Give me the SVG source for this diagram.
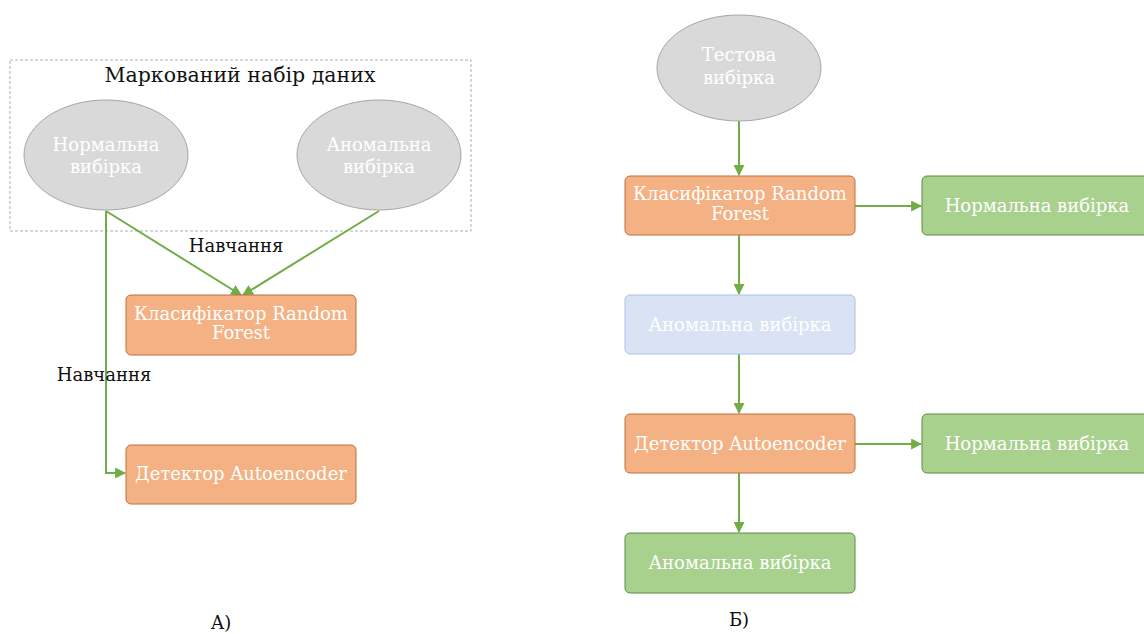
<svg xmlns="http://www.w3.org/2000/svg" width="1144" height="634" viewBox="0 0 1144 634">
<style>
.ell{fill:#d9d9d9;stroke:#a6a6a6;stroke-width:1}
.or{fill:#f4b183;stroke:#c0703a;stroke-width:1}
.gr{fill:#a9d18e;stroke:#5f8a43;stroke-width:1}
.bl{fill:#dae3f3;stroke:#a9c0ea;stroke-width:1}
.wt{font-family:"DejaVu Serif","Liberation Serif",serif;font-size:18px;fill:#ffffff;text-anchor:middle}
.bk{font-family:"DejaVu Serif","Liberation Serif",serif;font-size:18px;fill:#111111;text-anchor:middle}
.cn{fill:none;stroke:#70ad47;stroke-width:2}
</style>
<defs>
<marker id="ah" viewBox="0 0 10 10" refX="9" refY="5" markerWidth="11" markerHeight="11" markerUnits="userSpaceOnUse" orient="auto">
<path d="M0,0 L10,5 L0,10 z" fill="#70ad47"/>
</marker>
</defs>
<rect fill="#ffffff" x="0" y="0" width="1144" height="634"/>

<g id="container">
<rect x="10" y="60" width="461" height="171" fill="none" stroke="#b0b0b0" stroke-width="1" stroke-dasharray="3,2"/>
<text class="bk" x="240" y="82" style="font-size:20.5px">Маркований набір даних</text>
</g>

<g id="connectors">
<line class="cn" x1="106" y1="211" x2="241" y2="295" marker-end="url(#ah)"/>
<line class="cn" x1="379" y1="211" x2="243" y2="295" marker-end="url(#ah)"/>
<polyline class="cn" points="106,211 106,473 125,473" marker-end="url(#ah)"/>
<line class="cn" x1="739" y1="121" x2="739" y2="175" marker-end="url(#ah)"/>
<line class="cn" x1="855" y1="206" x2="921" y2="206" marker-end="url(#ah)"/>
<line class="cn" x1="739" y1="235" x2="739" y2="294" marker-end="url(#ah)"/>
<line class="cn" x1="739" y1="354" x2="739" y2="413" marker-end="url(#ah)"/>
<line class="cn" x1="855" y1="444" x2="921" y2="444" marker-end="url(#ah)"/>
<line class="cn" x1="739" y1="473" x2="739" y2="532" marker-end="url(#ah)"/>
<text class="bk" x="236" y="252">Навчання</text>
<text class="bk" x="104" y="381">Навчання</text>
</g>

<g id="normal_a">
<ellipse class="ell" cx="106" cy="155" rx="82" ry="55"/>
<text class="wt" x="106" y="151">Нормальна</text>
<text class="wt" x="106" y="173">вибірка</text>
</g>
<g id="anomal_a">
<ellipse class="ell" cx="379" cy="155" rx="82" ry="55"/>
<text class="wt" x="379" y="151">Аномальна</text>
<text class="wt" x="379" y="173">вибірка</text>
</g>
<g id="rf_a">
<rect class="or" x="126" y="295" width="230" height="60" rx="5"/>
<text class="wt" x="241" y="320">Класифікатор Random</text>
<text class="wt" x="241" y="339">Forest</text>
</g>
<g id="ae_a">
<rect class="or" x="126" y="445" width="230" height="59" rx="5"/>
<text class="wt" x="241" y="480">Детектор Autoencoder</text>
</g>
<text class="bk" x="221" y="629">А)</text>

<g id="test_b">
<ellipse class="ell" cx="739" cy="68" rx="82" ry="53"/>
<text class="wt" x="739" y="61">Тестова</text>
<text class="wt" x="739" y="84">вибірка</text>
</g>
<g id="rf_b">
<rect class="or" x="625" y="176" width="230" height="59" rx="5"/>
<text class="wt" x="740" y="200">Класифікатор Random</text>
<text class="wt" x="740" y="220">Forest</text>
</g>
<g id="normal_b1">
<rect class="gr" x="922" y="176" width="230" height="59" rx="5"/>
<text class="wt" x="1037" y="212">Нормальна вибірка</text>
</g>
<g id="anomal_b1">
<rect class="bl" x="625" y="295" width="230" height="59" rx="5"/>
<text class="wt" x="740" y="331">Аномальна вибірка</text>
</g>
<g id="ae_b">
<rect class="or" x="625" y="414" width="230" height="59" rx="5"/>
<text class="wt" x="740" y="450">Детектор Autoencoder</text>
</g>
<g id="normal_b2">
<rect class="gr" x="922" y="414" width="230" height="59" rx="5"/>
<text class="wt" x="1037" y="450">Нормальна вибірка</text>
</g>
<g id="anomal_b2">
<rect class="gr" x="625" y="533" width="230" height="60" rx="5"/>
<text class="wt" x="740" y="569">Аномальна вибірка</text>
</g>
<text class="bk" x="739" y="626">Б)</text>
</svg>
